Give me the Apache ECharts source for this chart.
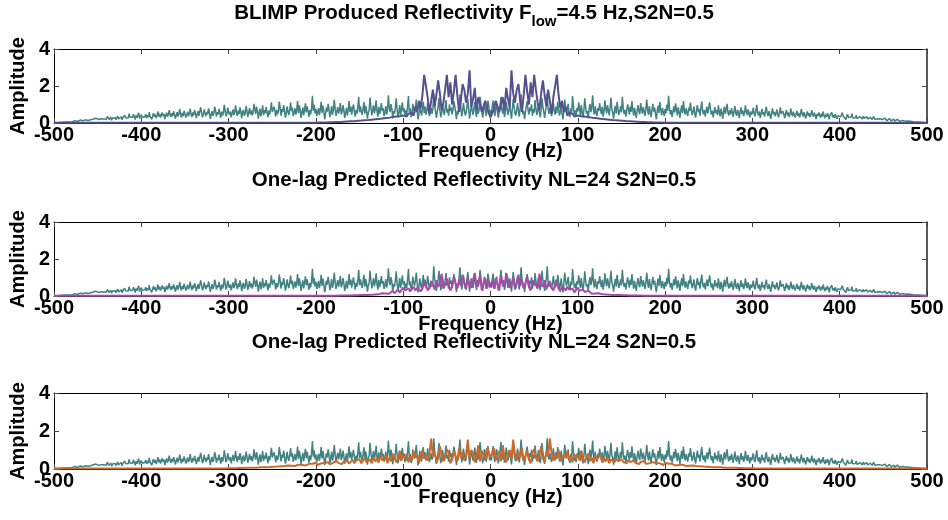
<!DOCTYPE html>
<html><head><meta charset="utf-8">
<script src="https://cdn.jsdelivr.net/npm/echarts@6/dist/echarts.min.js"></script>
<style>html,body{margin:0;padding:0;background:#fff}#c{width:948px;height:520px}</style>
</head><body><div id="c"></div>
<script>
// Frequency axis ticks (Hz)
const xTicks = [-500,-400,-300,-200,-100,0,100,200,300,400,500];
const yTicks = [0,2,4];
const titles = [
  '{m|BLIMP Produced Reflectivity F}{s|low}{m|=4.5 Hz,S2N=0.5}',
  'One-lag Predicted Reflectivity NL=24 S2N=0.5',
  'One-lag Predicted Reflectivity NL=24 S2N=0.5'
];
const noisyStep = 1;   // Hz between samples of the noisy spectrum
const overlayStep = 2; // Hz between samples of the overlay spectra

// Noisy (S2N=0.5) amplitude spectrum for f = 0,1,...,500 Hz (25 values per row).
// The amplitude spectrum of a real trace is symmetric, so the negative side mirrors these values.
const noisyHalf = [
 0.70,0.45,0.92,1.21,0.63,0.38,0.81,1.05,0.57,0.29,0.66,0.98,1.42,0.74,0.51,0.86,0.33,0.60,1.13,0.79,0.44,0.69,0.95,0.58,0.24,
 0.77,1.30,0.88,0.52,0.41,0.73,1.08,0.62,0.35,0.84,1.55,0.97,0.48,0.66,0.21,0.59,0.91,1.18,0.71,0.46,0.83,0.64,1.01,0.39,0.75,
 0.56,1.24,0.80,0.43,0.68,0.99,0.54,0.31,0.72,1.36,0.87,0.60,0.27,0.65,0.94,1.61,0.76,0.49,0.82,0.57,0.37,0.70,1.09,0.63,0.45,
 0.89,0.53,1.15,0.78,0.40,0.61,0.96,0.50,0.19,0.67,1.27,0.85,0.55,0.74,1.04,0.47,0.32,0.79,0.58,1.46,0.90,0.44,0.69,0.36,0.81,
 0.62,1.12,0.75,0.42,0.97,0.57,0.30,0.71,1.33,0.83,0.50,0.64,0.25,0.78,1.02,0.59,0.86,1.50,0.70,0.46,0.92,0.55,0.38,0.80,0.65,
 1.07,0.73,0.48,0.88,0.34,0.61,1.22,0.79,0.52,0.96,0.67,0.41,0.85,1.38,0.72,0.56,0.23,0.68,0.93,0.50,1.14,0.77,0.44,0.63,0.90,
 0.58,1.41,0.84,0.49,0.71,0.35,0.66,1.01,0.76,0.45,0.89,0.60,1.19,0.73,0.40,0.82,0.54,0.28,0.69,0.97,0.62,0.47,1.08,0.75,0.51,
 0.86,0.63,0.39,0.78,1.26,0.70,0.44,0.92,0.57,0.32,0.74,1.04,0.61,0.83,0.48,0.20,0.67,0.94,0.55,1.15,0.72,0.43,0.80,0.59,0.37,
 0.76,0.52,0.98,0.65,1.47,0.81,0.46,0.70,0.33,0.62,0.90,0.57,1.06,0.74,0.41,0.85,0.60,0.27,0.68,0.95,0.53,1.18,0.71,0.45,0.79,
 0.56,0.38,0.83,0.64,1.10,0.72,0.43,0.61,0.90,0.50,0.29,0.69,0.97,0.58,0.75,0.40,0.84,1.16,0.63,0.47,0.71,0.35,0.66,0.88,0.52,
 0.60,1.12,0.74,0.45,0.67,0.31,0.58,0.86,0.53,0.70,0.42,0.95,0.62,0.36,0.77,0.55,0.23,0.64,0.89,0.49,0.72,1.03,0.57,0.41,0.68,
 0.47,0.80,0.56,0.33,0.65,0.92,0.51,0.39,0.71,0.58,0.26,0.62,0.84,0.48,0.69,0.37,0.55,0.96,0.60,0.43,0.74,0.52,0.30,0.63,0.45,
 0.57,0.83,0.49,0.36,0.68,0.98,0.54,0.40,0.62,0.28,0.51,0.76,0.46,0.59,0.34,0.70,0.88,0.50,0.38,0.64,0.44,0.22,0.55,0.79,0.47,
 0.60,0.37,0.52,0.74,0.43,0.31,0.58,0.85,0.49,0.39,0.64,0.45,0.26,0.53,0.69,0.41,0.57,0.33,0.47,0.78,0.50,0.36,0.61,0.44,0.29,
 0.48,0.66,0.39,0.55,0.30,0.45,0.76,0.51,0.35,0.59,0.42,0.24,0.47,0.63,0.38,0.53,0.32,0.44,0.70,0.46,0.34,0.56,0.40,0.21,0.49,
 0.37,0.57,0.43,0.29,0.51,0.35,0.62,0.41,0.26,0.46,0.33,0.53,0.39,0.20,0.44,0.36,0.58,0.31,0.42,0.27,0.48,0.34,0.22,0.40,0.30,
 0.45,0.33,0.24,0.55,0.38,0.28,0.41,0.19,0.35,0.47,0.30,0.25,0.39,0.32,0.50,0.27,0.21,0.36,0.29,0.42,0.23,0.31,0.17,0.34,0.26,
 0.30,0.22,0.37,0.25,0.18,0.29,0.34,0.21,0.27,0.15,0.31,0.24,0.19,0.28,0.36,0.20,0.14,0.26,0.22,0.30,0.17,0.23,0.13,0.25,0.19,
 0.21,0.16,0.26,0.18,0.12,0.22,0.15,0.24,0.17,0.11,0.19,0.14,0.21,0.10,0.17,0.13,0.20,0.12,0.15,0.09,0.16,0.11,0.14,0.08,0.12,
 0.10,0.13,0.08,0.11,0.07,0.10,0.09,0.06,0.08,0.07,0.05,0.07,0.06,0.05,0.04,0.05,0.04,0.03,0.04,0.03,0.02,0.03,0.02,0.01,0.01,
 0.01
];
// Overlay spectra for f = 0,2,...,500 Hz (25 values per row = 50 Hz).
const blimpHalf = [
 0.30,0.55,0.80,1.20,0.90,0.60,1.00,1.40,0.70,1.90,1.30,0.85,2.85,1.60,1.10,1.80,2.10,1.20,0.60,1.50,2.60,1.70,1.00,2.20,1.40,
 2.60,1.80,1.10,0.70,1.60,2.30,1.50,0.90,1.80,1.20,0.50,1.40,2.00,2.60,1.50,0.80,1.20,0.60,0.90,0.40,0.55,0.45,0.50,0.35,0.42,
 0.40,0.39,0.37,0.36,0.35,0.33,0.32,0.31,0.29,0.28,0.27,0.26,0.24,0.23,0.22,0.21,0.20,0.19,0.18,0.17,0.16,0.15,0.15,0.14,0.13,
 0.12,0.12,0.11,0.10,0.10,0.09,0.09,0.08,0.075,0.07,0.065,0.06,0.055,0.05,0.045,0.04,0.04,0.035,0.035,0.03,0.03,0.03,0.025,0.025,0.025,
 0.02,0.02,0.02,0.02,0.02,0.02,0.02,0.02,0.02,0.02,0.02,0.02,0.02,0.02,0.02,0.02,0.02,0.02,0.02,0.02,0.02,0.02,0.02,0.02,0.02,
 0.02,0.02,0.02,0.02,0.02,0.02,0.02,0.02,0.02,0.02,0.02,0.02,0.02,0.02,0.02,0.02,0.02,0.02,0.02,0.02,0.02,0.02,0.02,0.02,0.02,
 0.02,0.02,0.02,0.02,0.02,0.02,0.02,0.02,0.02,0.02,0.02,0.02,0.02,0.02,0.02,0.02,0.02,0.02,0.02,0.02,0.02,0.02,0.02,0.02,0.02,
 0.02,0.02,0.02,0.02,0.02,0.02,0.02,0.02,0.02,0.02,0.02,0.02,0.02,0.02,0.02,0.02,0.02,0.02,0.02,0.02,0.02,0.02,0.02,0.02,0.02,
 0.02,0.02,0.02,0.02,0.02,0.02,0.02,0.02,0.02,0.02,0.02,0.02,0.02,0.02,0.02,0.02,0.02,0.02,0.02,0.02,0.02,0.02,0.02,0.02,0.02,
 0.02,0.02,0.02,0.02,0.02,0.02,0.02,0.02,0.02,0.02,0.02,0.02,0.02,0.02,0.02,0.02,0.02,0.02,0.02,0.02,0.02,0.02,0.02,0.02,0.02,
 0.02
];
const predAHalf = [
 0.55,0.80,0.40,0.95,0.65,0.30,1.10,0.70,0.50,1.25,0.85,0.45,0.60,1.00,0.35,0.75,1.15,0.55,0.90,0.40,0.70,1.05,0.50,0.30,0.85,
 0.95,0.60,0.40,1.20,0.70,0.50,0.85,0.35,0.65,0.80,0.45,0.30,0.60,0.75,0.40,0.25,0.55,0.45,0.30,0.50,0.35,0.25,0.40,0.20,0.30,
 0.45,0.28,0.18,0.35,0.22,0.15,0.28,0.18,0.12,0.20,0.14,0.10,0.15,0.11,0.09,0.12,0.08,0.09,0.07,0.07,0.06,0.06,0.05,0.05,0.05,
 0.04,0.04,0.04,0.04,0.03,0.03,0.03,0.03,0.03,0.03,0.03,0.03,0.02,0.02,0.02,0.02,0.02,0.02,0.02,0.02,0.02,0.02,0.02,0.02,0.02,
 0.02,0.02,0.02,0.02,0.02,0.02,0.02,0.02,0.02,0.02,0.02,0.02,0.02,0.02,0.02,0.02,0.02,0.02,0.02,0.02,0.02,0.02,0.02,0.02,0.02,
 0.02,0.02,0.02,0.02,0.02,0.02,0.02,0.02,0.02,0.02,0.02,0.02,0.02,0.02,0.02,0.02,0.02,0.02,0.02,0.02,0.02,0.02,0.02,0.02,0.02,
 0.02,0.02,0.02,0.02,0.02,0.02,0.02,0.02,0.02,0.02,0.02,0.02,0.02,0.02,0.02,0.02,0.02,0.02,0.02,0.02,0.02,0.02,0.02,0.02,0.02,
 0.02,0.02,0.02,0.02,0.02,0.02,0.02,0.02,0.02,0.02,0.02,0.02,0.02,0.02,0.02,0.02,0.02,0.02,0.02,0.02,0.02,0.02,0.02,0.02,0.02,
 0.02,0.02,0.02,0.02,0.02,0.02,0.02,0.02,0.02,0.02,0.02,0.02,0.02,0.02,0.02,0.02,0.02,0.02,0.02,0.02,0.02,0.02,0.02,0.02,0.02,
 0.02,0.02,0.02,0.02,0.02,0.02,0.02,0.02,0.02,0.02,0.02,0.02,0.02,0.02,0.02,0.02,0.02,0.02,0.02,0.02,0.02,0.02,0.02,0.02,0.02,
 0.02
];
const predBHalf = [
 0.60,0.85,1.10,0.45,0.70,0.95,0.40,1.25,0.65,0.35,0.80,1.00,0.55,1.55,0.75,0.45,0.90,0.60,1.10,0.40,0.70,0.95,0.50,0.30,0.85,
 1.05,0.60,0.40,0.75,1.20,0.55,0.35,0.90,0.65,1.60,0.80,0.45,0.70,0.55,1.00,0.40,0.30,0.75,0.60,0.95,0.45,0.65,0.35,0.80,0.55,
 0.70,0.45,0.95,0.55,0.35,0.65,0.80,0.40,0.60,0.30,0.70,0.50,0.45,0.75,0.35,0.55,0.40,0.62,0.30,0.50,0.45,0.35,0.58,0.40,0.30,
 0.52,0.38,0.45,0.30,0.48,0.36,0.28,0.44,0.33,0.40,0.26,0.37,0.31,0.42,0.27,0.34,0.30,0.24,0.36,0.28,0.32,0.22,0.30,0.26,0.21,
 0.33,0.25,0.28,0.20,0.27,0.23,0.18,0.25,0.21,0.17,0.23,0.19,0.16,0.20,0.17,0.15,0.18,0.14,0.16,0.13,0.15,0.12,0.13,0.11,0.12,
 0.11,0.10,0.11,0.09,0.10,0.09,0.08,0.09,0.08,0.07,0.08,0.07,0.07,0.06,0.06,0.06,0.05,0.05,0.05,0.05,0.04,0.04,0.04,0.04,0.04,
 0.04,0.03,0.03,0.03,0.03,0.03,0.03,0.03,0.03,0.03,0.02,0.02,0.02,0.02,0.02,0.02,0.02,0.02,0.02,0.02,0.02,0.02,0.02,0.02,0.02,
 0.02,0.02,0.02,0.02,0.02,0.02,0.02,0.02,0.02,0.02,0.02,0.02,0.02,0.02,0.02,0.02,0.02,0.02,0.02,0.02,0.02,0.02,0.02,0.02,0.02,
 0.02,0.02,0.02,0.02,0.02,0.02,0.02,0.02,0.02,0.02,0.02,0.02,0.02,0.02,0.02,0.02,0.02,0.02,0.02,0.02,0.02,0.02,0.02,0.02,0.02,
 0.02,0.02,0.02,0.02,0.02,0.02,0.02,0.02,0.02,0.02,0.02,0.02,0.02,0.02,0.02,0.02,0.02,0.02,0.02,0.02,0.02,0.02,0.02,0.02,0.02,
 0.02
];

const colors = { noisy:'#418282', blimp:'#55518f', predA:'#a84ba8', predB:'#cc692c' };

function mirror(h){ return h.slice(1).reverse().concat(h); }
function freqAxis(step){ const a = []; for (let f = -500; f <= 500; f += step) a.push(f); return a; }
function pairs(vals, step){ const full = mirror(vals); const fr = freqAxis(step); return fr.map((f,i)=>[f, full[i]]); }

const FONT = 'Liberation Sans';
const grids = [
  {left:53, width:874, top:49, height:74},
  {left:53, width:874, top:222, height:74},
  {left:53, width:874, top:393, height:76}
];
const xAxes = [], yAxes = [];
const axisLine = {show:true, onZero:false, lineStyle:{color:'#000', width:1}};
const tick = {inside:true, length:5, lineStyle:{color:'#444', width:1}};
grids.forEach((g,i)=>{
  xAxes.push({gridIndex:i, type:'value', position:'bottom', min:xTicks[0], max:xTicks[xTicks.length-1], interval:100,
    axisLine, axisTick:tick, splitLine:{show:false},
    axisLabel:{color:'#000', fontFamily:FONT, fontWeight:'bold', fontSize:20, margin:2, showMinLabel:true, showMaxLabel:true},
    name:'Frequency (Hz)', nameLocation:'middle', nameGap:18, nameMoveOverlap:false,
    nameTextStyle:{color:'#000', fontFamily:FONT, fontWeight:'bold', fontSize:20}});
  xAxes.push({gridIndex:i, type:'value', position:'top', min:xTicks[0], max:xTicks[xTicks.length-1], interval:100,
    axisLine, axisTick:tick, splitLine:{show:false}, axisLabel:{show:false}});
  yAxes.push({gridIndex:i, type:'value', position:'left', min:yTicks[0], max:yTicks[yTicks.length-1], interval:2,
    axisLine, axisTick:tick, splitLine:{show:false},
    axisLabel:{color:'#000', fontFamily:FONT, fontWeight:'bold', fontSize:20, margin:4, showMinLabel:true, showMaxLabel:true},
    name:'Amplitude', nameLocation:'middle', nameGap:26,
    nameTextStyle:{color:'#000', fontFamily:FONT, fontWeight:'bold', fontSize:20}});
  yAxes.push({gridIndex:i, type:'value', position:'right', min:yTicks[0], max:yTicks[yTicks.length-1], interval:2,
    axisLine:{show:true, onZero:false, lineStyle:{color:'#222', width:1.5}}, axisTick:tick, splitLine:{show:false}, axisLabel:{show:false}});
});

const overlays = [[blimpHalf, colors.blimp],[predAHalf, colors.predA],[predBHalf, colors.predB]];
const series = [];
overlays.forEach((o,i)=>{
  series.push({type:'line', xAxisIndex:2*i, yAxisIndex:2*i, data:pairs(noisyHalf, noisyStep), showSymbol:false,
    lineStyle:{color:colors.noisy, width:1.5}, z:2, animation:false});
  series.push({type:'line', xAxisIndex:2*i, yAxisIndex:2*i, data:pairs(o[0], overlayStep), showSymbol:false,
    lineStyle:{color:o[1], width:2}, z:3, animation:false});
});

const titleTops = [3, 170, 332];
const title = titles.map((t,i)=>({
  text:t, left:474, textAlign:'center', top:titleTops[i], padding:0,
  textStyle:{color:'#000', fontFamily:FONT, fontWeight:'bold', fontSize:20.5,
    rich:{ m:{fontFamily:FONT, fontWeight:'bold', fontSize:20.5, lineHeight:22, verticalAlign:'top', color:'#000'},
           s:{fontFamily:FONT, fontWeight:'bold', fontSize:15, lineHeight:16, padding:[11,0,0,0], verticalAlign:'top', color:'#000'} }}
}));

const chart = echarts.init(document.getElementById('c'), null, {renderer:'canvas'});
chart.setOption({backgroundColor:'#fff', animation:false, title, grid:grids, xAxis:xAxes, yAxis:yAxes, series});
</script></body></html>
